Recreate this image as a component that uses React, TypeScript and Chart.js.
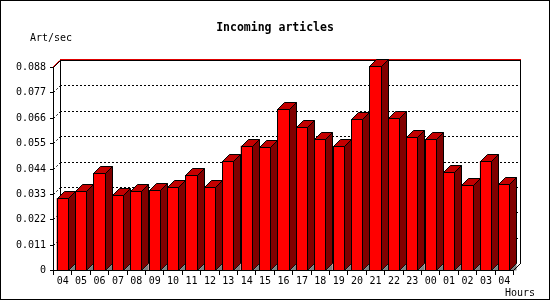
import React, { useEffect, useRef } from "react";
import { Chart, registerables } from "chart.js";

Chart.register(...registerables);

const hours = ["04", "05", "06", "07", "08", "09", "10", "11", "12", "13", "14", "15", "16", "17", "18", "19", "20", "21", "22", "23", "00", "01", "02", "03", "04"];
const artPerSec = [0.0311, 0.0341, 0.0419, 0.0324, 0.0341, 0.0345, 0.0358, 0.0410, 0.0358, 0.0471, 0.0539, 0.0533, 0.0698, 0.0620, 0.0568, 0.0537, 0.0655, 0.0883, 0.0659, 0.0577, 0.0568, 0.0423, 0.0368, 0.0471, 0.0373];
const yTickValues = [0, 0.011, 0.022, 0.033, 0.044, 0.055, 0.066, 0.077, 0.088];
const yTickLabels = ["0", "0.011", "0.022", "0.033", "0.044", "0.055", "0.066", "0.077", "0.088"];
const titleText = "Incoming articles";
const yUnitText = "Art/sec";
const xUnitText = "Hours";

const D = 7;
const MONO = "'DejaVu Sans Mono', monospace";

const threeDPlugin = {
  id: "threeD",
  beforeDatasetsDraw(chart: any) {
    const { ctx, chartArea: a, scales } = chart;
    const x = scales.x;
    const y = scales.y;
    const L = Math.round(a.left);
    const R = Math.round(a.right);
    const T = Math.round(a.top);
    const B = Math.round(a.bottom);
    ctx.save();
    ctx.lineWidth = 1;
    ctx.strokeStyle = "#000";

    // dashed grid on back plane + left wall
    ctx.setLineDash([2, 2]);
    yTickValues.forEach((v) => {
      if (v === yTickValues[0] || v === yTickValues[yTickValues.length - 1]) return;
      const py = Math.round(y.getPixelForValue(v));
      ctx.beginPath();
      ctx.moveTo(L + D, py - D + 0.5);
      ctx.lineTo(R + D, py - D + 0.5);
      ctx.stroke();
      ctx.beginPath();
      ctx.moveTo(L + 0.5, py + 0.5);
      ctx.lineTo(L + D + 0.5, py - D + 0.5);
      ctx.stroke();
    });
    ctx.setLineDash([]);

    // back frame
    ctx.beginPath();
    ctx.moveTo(L + D + 0.5, T - D);
    ctx.lineTo(L + D + 0.5, B - D);
    ctx.moveTo(R + D + 0.5, T - D);
    ctx.lineTo(R + D + 0.5, B - D + 1);
    ctx.moveTo(L + D, T - D + 0.5);
    ctx.lineTo(R + D + 1, T - D + 0.5);
    ctx.moveTo(L + 0.5, T + 0.5);
    ctx.lineTo(L + D + 0.5, T - D + 0.5);
    ctx.stroke();
    // red top line
    ctx.strokeStyle = "#e00000";
    ctx.beginPath();
    ctx.moveTo(L + D, T - D - 0.5);
    ctx.lineTo(R + D + 1, T - D - 0.5);
    ctx.moveTo(L - 0.5, T + 0.5);
    ctx.lineTo(L + D - 0.5, T - D + 0.5);
    ctx.stroke();
    ctx.strokeStyle = "#000";

    // front left axis
    ctx.beginPath();
    ctx.moveTo(L + 0.5, T);
    ctx.lineTo(L + 0.5, B + 1);
    ctx.stroke();

    // y ticks and labels
    ctx.fillStyle = "#000";
    ctx.font = `10px ${MONO}`;
    ctx.textAlign = "right";
    ctx.textBaseline = "alphabetic";
    yTickValues.forEach((v, i) => {
      const py = Math.round(y.getPixelForValue(v));
      ctx.beginPath();
      ctx.moveTo(L - 3, py + 0.5);
      ctx.lineTo(L, py + 0.5);
      ctx.stroke();
      ctx.fillText(yTickLabels[i], L - 7, py + 3);
    });

    // x ticks & labels
    ctx.textAlign = "center";
    const n = hours.length;
    for (let i = 0; i <= n; i++) {
      const px = Math.round(L + ((R - L) * i) / n);
      ctx.beginPath();
      ctx.moveTo(px + 0.5, B);
      ctx.lineTo(px + 0.5, B + 5);
      ctx.stroke();
    }
    hours.forEach((h, i) => {
      const px = x.getPixelForValue(i);
      ctx.fillText(h, px + 0.5, B + 14);
    });

    // texts
    ctx.textAlign = "left";
    ctx.fillText(yUnitText, 30, 41);
    ctx.fillText(xUnitText, 505, 296);
    ctx.textAlign = "center";
    ctx.font = `bold 11.5px ${MONO}`;
    ctx.fillText(titleText, 275, 31);
    ctx.restore();
  },
  afterDatasetsDraw(chart: any) {
    const { ctx, chartArea: a } = chart;
    const L = Math.round(a.left);
    const R = Math.round(a.right);
    const B = Math.round(a.bottom);
    const meta = chart.getDatasetMeta(0);
    ctx.save();
    ctx.lineWidth = 1;
    ctx.strokeStyle = "#000";
    ctx.lineJoin = "miter";
    meta.data.forEach((el: any) => {
      const p = el.getProps(["x", "y", "base", "width"], true);
      const x0 = Math.round(p.x - p.width / 2) + 0.5;
      const x1 = Math.round(p.x + p.width / 2) + 0.5;
      const top = Math.round(p.y) + 0.5;
      const base = Math.round(p.base) + 0.5;
      // front
      ctx.fillStyle = "#ff0000";
      ctx.fillRect(x0, top, x1 - x0, base - top);
      ctx.strokeRect(x0, top, x1 - x0, base - top);
      // top
      ctx.fillStyle = "#c40000";
      ctx.beginPath();
      ctx.moveTo(x0, top);
      ctx.lineTo(x0 + D, top - D);
      ctx.lineTo(x1 + D, top - D);
      ctx.lineTo(x1, top);
      ctx.closePath();
      ctx.fill();
      ctx.stroke();
      // side
      ctx.fillStyle = "#800000";
      ctx.beginPath();
      ctx.moveTo(x1, top);
      ctx.lineTo(x1 + D, top - D);
      ctx.lineTo(x1 + D, base - D);
      ctx.lineTo(x1, base);
      ctx.closePath();
      ctx.fill();
      ctx.stroke();
      // floor shadow
      ctx.fillStyle = "#808080";
      ctx.beginPath();
      ctx.moveTo(x1 + 0.5, base);
      ctx.lineTo(x1 + D, base - D + 0.5);
      ctx.lineTo(x1 + D, base);
      ctx.closePath();
      ctx.fill();
    });
    // front bottom axis and right diagonal
    ctx.beginPath();
    ctx.moveTo(L, B + 0.5);
    ctx.lineTo(R + 1, B + 0.5);
    ctx.moveTo(R + 0.5, B + 0.5);
    ctx.lineTo(R + D + 0.5, B - D + 0.5);
    ctx.stroke();
    ctx.restore();
  },
};

export default function App() {
  const ref = useRef<HTMLCanvasElement | null>(null);
  useEffect(() => {
    document.body.style.margin = "0";
    const canvas = ref.current!;
    const chart = new Chart(canvas, {
      type: "bar",
      data: {
        labels: hours,
        datasets: [
          {
            label: yUnitText,
            data: artPerSec,
            backgroundColor: "#ff0000",
            borderWidth: 0,
            barPercentage: 0.6,
            categoryPercentage: 1,
            clip: false,
          } as any,
        ],
      },
      options: {
        responsive: false,
        animation: false,
        devicePixelRatio: 1,
        layout: { padding: { left: 53, right: 37, top: 67, bottom: 30 } },
        plugins: {
          legend: { display: false },
          title: { display: false },
          tooltip: { enabled: false },
        },
        scales: {
          x: { display: false, offset: true },
          y: { display: false, min: 0, max: 0.088 },
        },
      },
      plugins: [
        {
          id: "bgBorder",
          beforeDraw(c: any) {
            const g = c.ctx;
            g.save();
            g.fillStyle = "#fff";
            g.fillRect(0, 0, c.width, c.height);
            g.strokeStyle = "#000";
            g.lineWidth = 2;
            g.strokeRect(0, 0, c.width, c.height);
            g.restore();
          },
        },
        threeDPlugin,
      ],
    });
    return () => chart.destroy();
  }, []);
  return (
    <div style={{ width: 550, height: 300 }}>
      <canvas ref={ref} width={550} height={300} style={{ display: "block" }} />
    </div>
  );
}
